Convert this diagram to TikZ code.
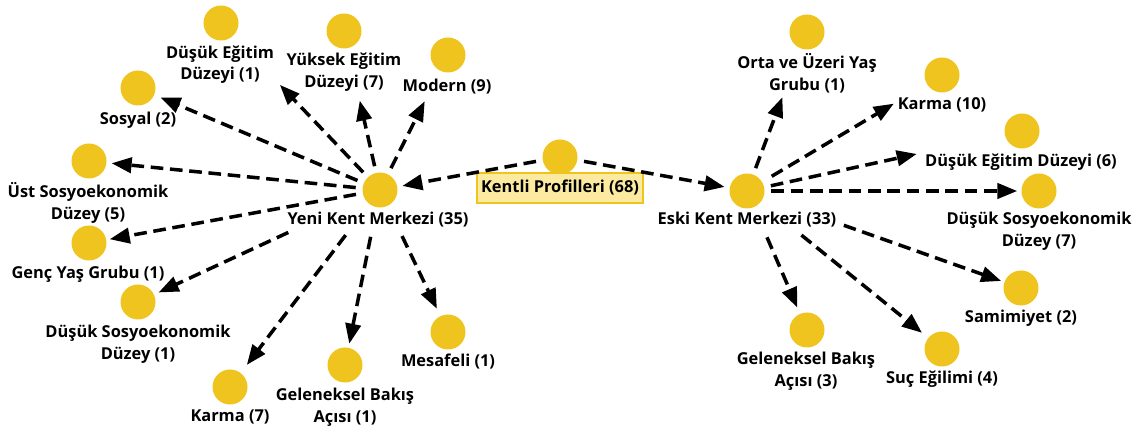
\documentclass[tikz,border=0pt]{standalone}
\usepackage{fontspec}
\setmainfont{Open Sans}
\usetikzlibrary{arrows.meta}
\definecolor{gold}{RGB}{240,196,30}
\definecolor{paleyellow}{RGB}{252,234,160}

\begin{document}
\begin{tikzpicture}[x=0.03cm,y=-0.03cm,
    bubble/.style={circle,fill=gold,minimum size=1.05cm,inner sep=0pt},
    lbl/.style={align=center,inner sep=1pt,font=\bfseries\fontsize{14pt}{18.5pt}\selectfont},
    link/.style={line width=3pt,dash pattern=on 0.38cm off 0.2cm,
      -{Triangle[length=0.6cm,width=0.46cm]},shorten <=0.2cm,shorten >=0.15cm}]
\useasboundingbox (0,0) rectangle (1142,432);
  % hubs
  \node[bubble] (kentli) at (560,157) {};
  \node[lbl,draw=gold,fill=paleyellow,line width=1.8pt,minimum width=5cm,minimum height=0.9cm] (kentliL) at (560,188) {Kentli Profilleri (68)};
  \node[bubble] (yeni) at (380,190) {};
  \node[lbl] (yeniL) at (378,220) {Yeni Kent Merkezi (35)};
  \node[bubble] (eski) at (747,191) {};
  \node[lbl] (eskiL) at (747,220) {Eski Kent Merkezi (33)};
  % yeni kent merkezi
  \node[bubble] (duseg1) at (221,23) {};
  \node[lbl] (duseg1L) at (220,64.5) {Düşük Eğitim\\Düzeyi (1)};
  \node[bubble] (yuksek) at (344,31) {};
  \node[lbl] (yuksekL) at (344,72) {Yüksek Eğitim\\Düzeyi (7)};
  \node[bubble] (modern) at (448,55) {};
  \node[lbl] (modernL) at (447,87) {Modern (9)};
  \node[bubble] (sosyal) at (138,88) {};
  \node[lbl] (sosyalL) at (138,120) {Sosyal (2)};
  \node[bubble] (ust) at (89,161) {};
  \node[lbl] (ustL) at (88,203) {Üst Sosyoekonomik\\Düzey (5)};
  \node[bubble] (genc) at (89,243) {};
  \node[lbl] (gencL) at (88,274) {Genç Yaş Grubu (1)};
  \node[bubble] (dussos1) at (138,302) {};
  \node[lbl] (dussos1L) at (138,344) {Düşük Sosyoekonomik\\Düzey (1)};
  \node[bubble] (karma7) at (230,387) {};
  \node[lbl] (karma7L) at (230,417) {Karma (7)};
  \node[bubble] (gelen1) at (345,365) {};
  \node[lbl] (gelen1L) at (345,407.5) {Geleneksel Bakış\\Açısı (1)};
  \node[bubble] (mesafeli) at (448,332) {};
  \node[lbl] (mesafeliL) at (448,362) {Mesafeli (1)};
  % eski kent merkezi
  \node[bubble] (orta) at (807,32) {};
  \node[lbl] (ortaL) at (807,73) {Orta ve Üzeri Yaş\\Grubu (1)};
  \node[bubble] (karma10) at (942,75) {};
  \node[lbl] (karma10L) at (942,105) {Karma (10)};
  \node[bubble] (duseg6) at (1022,131) {};
  \node[lbl] (duseg6L) at (1021,162) {Düşük Eğitim Düzeyi (6)};
  \node[bubble] (dussos7) at (1039,191) {};
  \node[lbl] (dussos7L) at (1039,231.5) {Düşük Sosyoekonomik\\Düzey (7)};
  \node[bubble] (samimiyet) at (1021,288) {};
  \node[lbl] (samimiyetL) at (1021,318) {Samimiyet (2)};
  \node[bubble] (suc) at (942,349) {};
  \node[lbl] (sucL) at (942,379) {Suç Eğilimi (4)};
  \node[bubble] (gelen3) at (807,330) {};
  \node[lbl] (gelen3L) at (806,371.5) {Geleneksel Bakış\\Açısı (3)};
  % arrows
  \draw[link] (kentli) -- (yeni);
  \draw[link] (kentli) -- (eski);
  \draw[link,shorten >=0.2cm] (yeni) -- (sosyal);
  \draw[link,shorten >=2.03cm] (yeni) -- (duseg1);
  \draw[link,shorten >=1.61cm] (yeni) -- (yuksek);
  \draw[link,shorten >=1.02cm] (yeni) -- (modern);
  \draw[link] (yeni) -- (ust);
  \draw[link,shorten >=0.1cm] (yeni) -- (genc);
  \draw[link,shorten <=2.5cm] (yeni) -- (dussos1);
  \draw[link,shorten <=1.17cm,shorten >=0.3cm] (yeni) -- (karma7);
  \draw[link,shorten <=0.9cm,shorten >=0.12cm] (yeni) -- (gelen1);
  \draw[link,shorten <=1cm,shorten >=0.24cm] (yeni) -- (mesafeli);
  \draw[link,shorten >=1.56cm] (eski) -- (orta);
  \draw[link,shorten <=0.33cm,shorten >=1.15cm] (eski) -- (karma10);
  \draw[link,shorten >=2.7cm] (eski) -- (duseg6);
  \draw[link,shorten >=0.12cm] (eski) -- (dussos7);
  \draw[link,shorten <=2.55cm,shorten >=0.1cm] (eski) -- (samimiyet);
  \draw[link,shorten <=1.57cm,shorten >=0.24cm] (eski) -- (suc);
  \draw[link,shorten <=0.98cm,shorten >=0.2cm] (eski) -- (gelen3);
\end{tikzpicture}
\end{document}
